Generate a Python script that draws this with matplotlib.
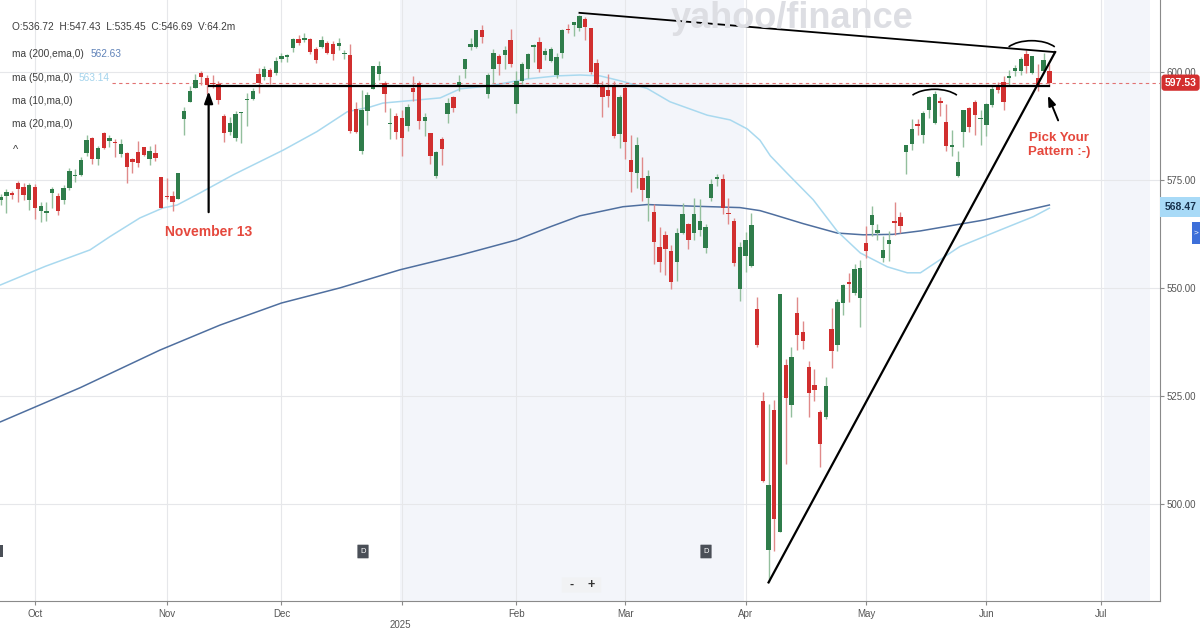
import numpy as np
import pandas as pd
import matplotlib
matplotlib.use('Agg')
import matplotlib.pyplot as plt
import matplotlib.transforms as mtransforms
from matplotlib.patches import Arc, FancyBboxPatch, Rectangle

plt.rcParams['font.family'] = ['Liberation Sans', 'DejaVu Sans']

# trading days shown (NYSE holidays removed)
holidays = ['2024-11-28', '2024-12-25', '2025-01-01', '2025-01-09',
            '2025-01-20', '2025-02-17', '2025-04-18', '2025-05-26']
dates = pd.bdate_range('2024-09-23', '2025-06-17', freq='C', holidays=holidays)

# daily candles
opens = [570.4, 571.2, 572.0, 574.4, 573.4, 570.4,
         573.4, 567.7, 567.4, 572.0, 571.3, 570.4, 573.2, 575.8, 576.1, 581.2, 584.6, 579.8,
         585.9, 584.1, 583.9, 580.9, 581.3, 579.9, 581.5, 582.6, 579.8, 581.3, 575.6,
         571.3, 571.2, 570.7, 589.2, 593.1, 596.2, 599.8, 598.7, 597.4, 597.3, 589.7, 586.2,
         584.7, 590.4, 593.4, 593.7, 599.5, 598.8, 600.5, 599.7,
         602.9, 603.4, 605.6, 607.7, 607.4, 607.7, 605.4, 605.8, 606.6, 606.4, 606.0, 604.2,
         604.0, 591.4, 581.8, 590.9, 596.1, 599.5, 597.5, 588.0, 589.9,
         589.4, 587.5, 596.3, 597.4, 588.7, 585.9, 575.8, 584.4, 590.3, 594.2, 597.0, 600.7,
         605.8, 605.8, 609.8, 594.8, 600.6, 603.7, 603.9, 607.5,
         592.7, 597.8, 600.6, 605.9, 606.9, 604.0, 602.5, 599.2, 604.5, 609.9, 610.9, 610.1,
         612.2, 610.2, 602.0, 597.1, 595.9, 596.9, 585.6,
         596.2, 579.7, 576.7, 575.5, 570.9, 567.6, 559.4, 562.2, 558.5, 556.1, 562.8, 564.8,
         562.8, 563.3, 559.3, 570.8, 575.3, 575.2, 567.2, 565.5, 549.8,
         557.5, 555.1, 545.1, 523.7, 489.2, 521.8, 493.4, 532.2, 523.0, 544.1, 539.7, 531.7,
         527.6, 521.2, 520.1, 540.4, 536.7, 546.6, 551.4, 548.9, 547.6,
         560.4, 564.6, 562.6, 557.0, 560.2, 565.2, 566.4, 581.5, 583.4, 587.8, 585.5, 591.2,
         588.1, 593.1, 588.4, 582.7, 575.8, 586.1, 591.6, 593.1, 589.0,
         587.8, 592.3, 596.9, 597.6, 598.7, 600.3, 600.2, 604.2, 599.8, 598.5, 600.3, 600.2]
highs = [571.7, 572.9, 572.4, 574.7, 574.2, 574.4,
         574.1, 569.9, 569.8, 573.4, 571.9, 573.8, 577.7, 577.6, 580.3, 585.3, 585.0, 582.8,
         586.1, 585.4, 584.5, 584.5, 581.5, 580.1, 584.0, 582.7, 582.9, 583.3, 575.6,
         575.5, 572.5, 576.7, 591.9, 596.7, 599.6, 600.2, 599.3, 599.2, 597.8, 590.2, 589.5,
         591.0, 590.8, 595.1, 596.2, 600.9, 601.3, 600.9, 603.4,
         604.3, 604.2, 607.9, 608.5, 609.1, 607.9, 605.8, 608.4, 607.2, 607.2, 607.8, 605.2,
         606.4, 593.0, 595.8, 595.3, 601.3, 602.5, 597.8, 591.7, 590.6,
         591.1, 592.6, 599.0, 597.8, 590.6, 585.9, 581.8, 585.0, 593.9, 594.4, 599.4, 603.1,
         607.8, 609.8, 610.8, 599.7, 605.4, 604.1, 606.0, 609.9,
         600.3, 602.3, 604.4, 606.4, 608.1, 605.5, 605.9, 604.5, 609.9, 611.0, 611.5, 613.2,
         612.7, 610.3, 603.0, 597.9, 599.6, 598.0, 594.7,
         597.3, 585.4, 584.9, 580.2, 577.4, 569.5, 564.0, 563.1, 559.9, 563.8, 569.7, 565.0,
         570.9, 570.6, 564.9, 575.2, 576.4, 576.4, 570.9, 566.3, 560.7,
         562.9, 567.4, 547.9, 525.9, 523.2, 524.0, 548.6, 533.5, 536.4, 548.0, 542.4, 533.0,
         531.2, 521.8, 529.3, 545.4, 547.4, 551.0, 553.5, 555.5, 556.5,
         564.4, 568.9, 564.9, 562.0, 563.1, 570.0, 567.6, 583.0, 589.1, 589.0, 591.0, 594.5,
         595.5, 594.3, 592.6, 586.6, 581.8, 591.3, 592.0, 593.5, 591.1,
         592.8, 597.1, 597.7, 599.0, 600.5, 601.6, 603.5, 605.1, 603.8, 601.9, 604.5, 601.8]
lows = [569.3, 567.4, 570.6, 569.9, 570.4, 568.1,
        566.0, 565.3, 565.5, 568.4, 566.9, 569.5, 572.6, 574.5, 575.9, 580.6, 578.6, 578.4,
        582.2, 582.6, 580.4, 580.4, 574.4, 576.6, 578.1, 580.5, 578.4, 579.3, 568.4,
        570.6, 567.9, 570.5, 585.4, 593.0, 596.2, 597.0, 595.0, 596.4, 592.7, 583.9, 585.3,
        584.0, 583.6, 587.5, 593.6, 595.1, 598.1, 597.3, 599.4,
        602.2, 602.2, 604.7, 606.3, 607.0, 604.1, 602.1, 605.5, 604.2, 602.8, 605.2, 602.9,
        585.9, 585.8, 580.9, 587.7, 596.0, 598.1, 590.8, 584.4, 584.4,
        580.5, 586.4, 593.3, 586.8, 585.2, 578.6, 575.4, 578.4, 588.2, 590.8, 595.6, 598.7,
        605.0, 605.5, 606.8, 594.0, 597.5, 599.2, 600.7, 601.1,
        590.5, 597.3, 598.6, 602.3, 600.1, 602.7, 602.4, 598.5, 603.2, 609.1, 608.4, 609.6,
        607.4, 599.5, 596.5, 589.6, 591.9, 584.7, 582.4,
        579.9, 572.3, 573.1, 570.1, 565.6, 555.6, 553.7, 553.1, 549.7, 551.5, 562.4, 559.1,
        561.1, 562.0, 558.0, 570.1, 573.6, 567.2, 564.7, 555.1, 546.9,
        553.7, 554.8, 536.4, 505.1, 481.8, 489.0, 493.4, 509.2, 520.0, 535.7, 535.8, 520.0,
        523.9, 508.5, 519.7, 531.5, 535.5, 543.8, 546.8, 548.4, 540.9,
        557.0, 562.0, 561.0, 556.0, 556.3, 562.2, 562.8, 576.4, 582.0, 585.5, 583.6, 589.3,
        588.0, 589.7, 581.8, 580.5, 575.6, 582.7, 586.1, 585.5, 583.2,
        585.1, 591.9, 595.1, 591.1, 596.9, 599.0, 599.3, 599.8, 599.5, 595.5, 600.2, 596.8]
closes = [571.1, 572.3, 571.5, 572.8, 571.5, 573.8,
          568.6, 568.9, 567.8, 573.0, 567.8, 573.2, 577.1, 576.1, 579.6, 584.3, 579.8, 582.3,
          582.4, 584.6, 583.6, 583.3, 578.0, 579.2, 579.0, 580.8, 581.8, 580.0, 568.6,
          571.0, 569.8, 576.7, 591.0, 595.6, 598.2, 598.8, 596.9, 597.2, 593.4, 585.8, 588.2,
          590.3, 590.5, 593.7, 595.5, 597.5, 600.7, 598.8, 602.6,
          603.6, 603.9, 607.7, 606.7, 607.8, 604.7, 602.8, 607.5, 604.3, 604.2, 606.8, 604.3,
          586.3, 586.1, 591.2, 594.7, 601.3, 601.3, 595.0, 588.2, 586.1,
          584.6, 592.0, 595.4, 588.6, 589.5, 580.5, 581.4, 582.2, 592.8, 591.6, 597.6, 603.1,
          606.4, 609.8, 608.0, 599.4, 604.5, 601.8, 605.0, 601.8,
          597.8, 601.8, 604.2, 606.3, 600.8, 604.9, 605.3, 603.4, 609.7, 609.7, 611.5, 612.9,
          610.4, 599.9, 597.2, 594.2, 594.5, 585.1, 594.2,
          583.8, 576.9, 583.1, 572.7, 575.9, 560.6, 555.9, 558.9, 551.4, 562.8, 567.2, 561.0,
          567.1, 565.5, 564.0, 574.1, 575.5, 568.6, 567.1, 555.7, 559.4,
          561.0, 564.5, 536.7, 505.3, 504.4, 496.5, 548.6, 524.6, 533.9, 539.1, 537.6, 525.7,
          526.4, 513.9, 527.3, 535.4, 546.7, 550.6, 550.9, 554.3, 554.5,
          558.5, 566.8, 563.5, 558.8, 561.2, 565.1, 564.3, 583.0, 586.8, 587.6, 590.5, 594.2,
          594.9, 592.9, 582.9, 583.1, 579.1, 591.2, 587.2, 590.1, 589.4,
          592.7, 596.1, 595.9, 593.1, 599.1, 601.0, 603.1, 601.4, 603.6, 597.0, 602.7, 597.53]

# moving average lines, sampled from the chart (bar index, value)
ema200_idx = [0, 13.9, 27.8, 38.3, 49.0, 59.2, 69.7, 80.2, 90.0, 96.0, 101.1, 108.6, 112.8,
              121.5, 129.0, 132.5, 134.8, 140.0, 146.0, 150.5, 155.7, 160.5, 171.5, 183]
ema200_val = [519.0, 526.9, 535.6, 541.4, 546.5, 550.0, 554.2, 557.6, 561.1, 564.2, 566.7,
              568.8, 569.3, 568.9, 568.6, 567.9, 567.0, 564.9, 562.7, 562.3, 562.4, 563.2,
              565.7, 569.2]
ma50_idx = [0, 7.8, 15.6, 19.1, 24.3, 28.3, 30.8, 34.8, 40.6, 43.5, 49.3, 55.2, 60.5, 64.5,
            66.7, 76.7, 80.2, 85.4, 91.9, 97.1, 101.1, 104.6, 108.6, 112.8, 116.8, 123.3,
            127.3, 130.3, 132.5, 134.3, 137.2, 141.8, 146.0, 150.0, 154.7, 158.2, 160.5,
            167.4, 174.4, 180.2, 183]
ma50_val = [550.7, 555.0, 558.8, 561.9, 566.2, 568.5, 569.2, 572.0, 576.2, 578.1, 581.9, 586.2,
            590.8, 591.9, 592.8, 594.0, 596.1, 596.8, 598.4, 599.1, 599.3, 599.1, 597.8, 596.2,
            593.1, 590.0, 588.9, 586.8, 584.2, 580.6, 576.6, 570.4, 563.1, 558.1, 554.9, 553.5,
            553.5, 559.6, 563.4, 566.5, 568.47]

legend_ohlc = 'O:536.72  H:547.43  L:535.45  C:546.69  V:64.2m'
month_labels = ['Oct', 'Nov', 'Dec', '', 'Feb', 'Mar', 'Apr', 'May', 'Jun', 'Jul']
last_price = closes[-1]

W, H = 1200, 631
fig = plt.figure(figsize=(12, 6.31), dpi=100)
ax = fig.add_axes([0, 30 / H, 1160 / W, 601 / H])
ax.set_xlim(-0.105, 202.3)
ax.set_ylim(477.5, 616.67)


def xi(px):
    # pixel column -> bar index
    return (px - 0.6) / 5.73


def yv(py):
    # pixel row -> price
    return 600 - (py - 72) / 4.32


def fx(px):
    return px / W


def fy(py):
    return 1 - py / H


# month positions: first session of each month, plus Jul 1 (eight sessions after the last bar)
x = np.arange(len(dates))
month_pos = [i for i in range(1, len(dates)) if dates[i].month != dates[i - 1].month]
month_pos = month_pos + [len(dates) + 8]

# quarter shading
ax.axvspan(69.7, 129.7, color='#f3f5fa', zorder=0, lw=0)
ax.axvspan(192.6, 200.6, color='#f3f5fa', zorder=0, lw=0)

for p in month_pos:
    ax.axvline(p, color='#e6e7ea', lw=0.8, zorder=0.5)
for v in [500, 525, 550, 575, 600]:
    ax.axhline(v, color='#e6e7ea', lw=0.8, zorder=0.5)

# watermark
fig.text(fx(792), fy(19), 'yahoo/finance', color='#dddee3', fontsize=26,
         fontweight='heavy', ha='center', va='center', zorder=0)

# moving averages
ax.plot(ema200_idx, ema200_val, color='#4f6f9f', lw=1.1, zorder=2)
ax.plot(ma50_idx, ma50_val, color='#a9d9ef', lw=1.1, zorder=2)

# candles
o = np.array(opens)
c = np.array(closes)
hi = np.array(highs)
lo = np.array(lows)
up = c >= o
cols = np.where(up, '#2f7d4b', '#d12f2f')
wick_cols = np.where(up, '#93bf9d', '#e08a8a')
ax.vlines(x, lo, hi, colors=wick_cols, lw=1.0, zorder=3)
body_h = np.maximum(np.abs(c - o), 0.3)
ax.bar(x, body_h, bottom=np.minimum(o, c), width=0.76, color=cols, lw=0, zorder=4)

# last price line
ax.axhline(last_price, xmin=112 / 1160, color='#e27272', lw=0.8, ls=(0, (3, 3)), zorder=2.5)

# drawn pattern lines
ax.plot([36.3, 183], [596.8, 596.8], color='black', lw=1.6, zorder=5)
ax.plot([101, 184], [613.7, 604.6], color='black', lw=1.3, zorder=5)
ax.plot([134, 184], [481.8, 604.6], color='black', lw=1.6, zorder=5)
ax.add_patch(Arc((xi(1031.5), yv(55)), 56 / 5.73, 28.6 / 4.32, theta1=25, theta2=155,
                 color='black', lw=1.2, zorder=5))
ax.add_patch(Arc((xi(934.5), yv(103)), 54 / 5.73, 27.4 / 4.32, theta1=25, theta2=155,
                 color='black', lw=1.2, zorder=5))

red_txt = '#e5483d'
ax.annotate('', xy=(36.3, 596.2), xytext=(36.3, yv(215)),
            arrowprops=dict(arrowstyle='-|>,head_length=0.7,head_width=0.25',
                            color='black', lw=1.6), zorder=6)
ax.text(36.3, yv(232), 'November 13', color=red_txt, fontsize=10, fontweight='bold',
        ha='center', va='center', zorder=6)
ax.annotate('', xy=(xi(1046.7), yv(93)), xytext=(xi(1059), yv(123)),
            arrowprops=dict(arrowstyle='-|>,head_length=0.6,head_width=0.22',
                            color='black', lw=1.4), zorder=6)
ax.text(xi(1059), yv(145), 'Pick Your\nPattern :-)', color=red_txt, fontsize=9.5,
        fontweight='bold', ha='center', va='center', linespacing=1.15, zorder=6)

# axes styling
for s in ['top', 'left']:
    ax.spines[s].set_visible(False)
ax.spines['right'].set_color('#8a8a8a')
ax.spines['bottom'].set_color('#8a8a8a')
ax.yaxis.tick_right()
ax.set_yticks([500, 525, 550, 575, 600])
ax.set_yticklabels([f'{v:.2f}' for v in [500, 525, 550, 575, 600]])
ax.tick_params(axis='y', colors='#8a8a8a', labelcolor='#555555', labelsize=7, length=3, pad=2)
ax.set_xticks(month_pos)
ax.set_xticklabels(month_labels)
ax.tick_params(axis='x', colors='#8a8a8a', labelcolor='#555555', labelsize=7, length=3, pad=3)
fig.text(fx(400), fy(625), '2025', color='#555555', fontsize=7, ha='center', va='center')

# price tags on the right axis
blend = mtransforms.blended_transform_factory(ax.transAxes, ax.transData)
ax.text(1.004, last_price, f'{last_price:.2f}', transform=blend, color='white', fontsize=7.5,
        fontweight='bold', ha='left', va='center', zorder=7, clip_on=False,
        bbox=dict(boxstyle='round,pad=0.3', fc='#d32f2f', ec='none'))
ax.text(1.004, 568.75, f'{ma50_val[-1]:.2f}', transform=blend, color='#17324d', fontsize=7.5,
        fontweight='bold', ha='left', va='center', zorder=7, clip_on=False,
        bbox=dict(boxstyle='square,pad=0.45', fc='#a8daf7', ec='none'))
fig.patches.append(Rectangle((fx(1192), fy(244)), 8 / W, 22 / H, transform=fig.transFigure,
                             fc='#3d6fd9', ec='none'))
fig.text(fx(1196), fy(233), '>', color='white', fontsize=6, ha='center', va='center')

# chart header legend
txt = '#3d3d3d'
fig.text(fx(12), fy(27), legend_ohlc, color=txt, fontsize=7.3, va='center')
fig.text(fx(12), fy(54), 'ma (200,ema,0)', color=txt, fontsize=7.3, va='center')
fig.text(fx(91), fy(54), '562.63', color='#5f82b8', fontsize=7.3, va='center')
fig.text(fx(12), fy(78), 'ma (50,ma,0)', color=txt, fontsize=7.3, va='center')
fig.text(fx(79), fy(78), '563.14', color='#a3d3ec', fontsize=7.3, va='center')
fig.text(fx(12), fy(101), 'ma (10,ma,0)', color=txt, fontsize=7.3, va='center')
fig.text(fx(12), fy(124), 'ma (20,ma,0)', color=txt, fontsize=7.3, va='center')
fig.text(fx(16), fy(150), '^', color=txt, fontsize=8, ha='center', va='center')

# dividend markers and zoom buttons
for px in [363, 706]:
    fig.patches.append(FancyBboxPatch((fx(px - 5), fy(558)), 10 / W, 13 / H,
                                      boxstyle='round,pad=0.0005', transform=fig.transFigure,
                                      fc='#4a4f57', ec='none'))
    fig.text(fx(px), fy(551.5), 'D', color='white', fontsize=5.5, ha='center', va='center')
fig.patches.append(Rectangle((0, fy(557)), 3 / W, 12 / H, transform=fig.transFigure,
                             fc='#4a4f57', ec='none'))
fig.patches.append(FancyBboxPatch((fx(563), fy(592)), 37 / W, 14 / H,
                                  boxstyle='round,pad=0.001', transform=fig.transFigure,
                                  fc='#f1f2f4', ec='none'))
fig.text(fx(572), fy(585), '-', color='#333333', fontsize=9, ha='center', va='center',
         fontweight='bold')
fig.text(fx(591), fy(585), '+', color='#333333', fontsize=9, ha='center', va='center',
         fontweight='bold')

fig.savefig('out.png', dpi=100)
